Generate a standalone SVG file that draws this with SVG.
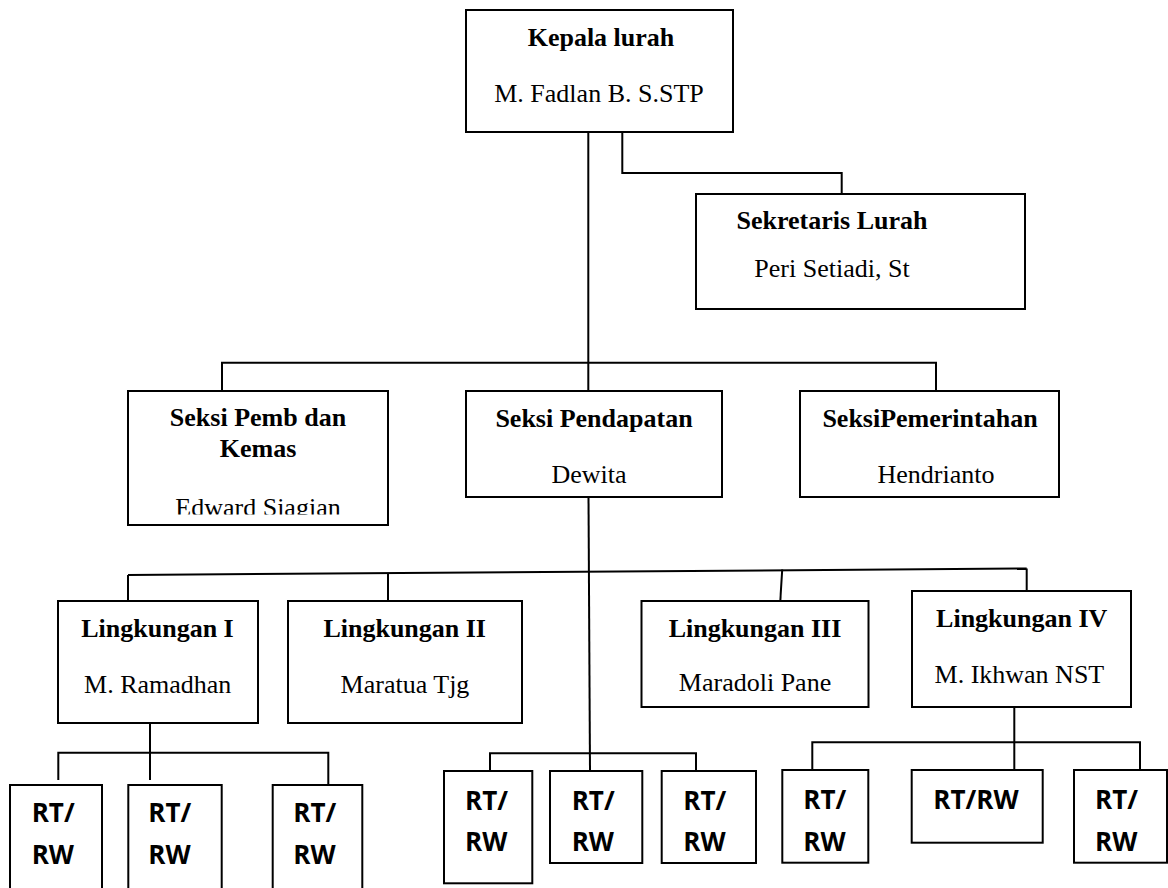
<svg xmlns="http://www.w3.org/2000/svg" width="1168" height="888" viewBox="0 0 1168 888">
<style>
.box{fill:#fff;stroke:#000;stroke-width:2}
.c{fill:none;stroke:#000;stroke-width:2}
.b{font-family:"Liberation Serif","Times New Roman",serif;font-size:26px;font-weight:bold;text-anchor:middle;fill:#000}
.r{font-family:"Liberation Serif","Times New Roman",serif;font-size:26px;text-anchor:middle;fill:#000}
.rt{font-family:"Open Sans","Liberation Sans",sans-serif;font-size:26px;font-weight:bold;fill:#000}
</style>
<defs>
<clipPath id="clipPemb"><rect x="128" y="391" width="260" height="123.5"/></clipPath>
</defs>
<rect width="1168" height="888" fill="#fff"/>
<g id="connectors">
<path class="c" d="M588.3,132 V391"/>
<path class="c" d="M588.5,497 L590,771"/>
<path class="c" d="M622.3,132 V173 H841.7 V194"/>
<path class="c" d="M222,391 V362.7 H936 V391"/>
<path class="c" d="M128,575 L1026.7,568.5"/>
<path class="c" d="M128,575 V601"/>
<path class="c" d="M388,573 V601"/>
<path class="c" d="M782.2,569.5 L780.3,601"/>
<path class="c" d="M1026.7,568.5 V591"/>
<path class="c" d="M150,723 V780"/>
<path class="c" d="M58.3,780 V752.7 H328.3 V785"/>
<path class="c" d="M490,771 V753.3 H696 V771"/>
<path class="c" d="M1014.3,707 V770"/>
<path class="c" d="M812.3,770 V742.3 H1140 V770"/>
</g>
<g id="kepala">
<rect class="box" x="466" y="10" width="267" height="122"/>
<text class="b" x="601" y="45.7">Kepala lurah</text>
<text class="r" x="599" y="101.7">M. Fadlan B. S.STP</text>
</g>
<g id="sekretaris">
<rect class="box" x="696" y="194" width="329" height="115"/>
<text class="b" x="832" y="229.3">Sekretaris Lurah</text>
<text class="r" x="832" y="276.7">Peri Setiadi, St</text>
</g>
<g id="seksi-pemb">
<rect class="box" x="128" y="391" width="260" height="134"/>
<text class="b" x="258" y="425.7">Seksi Pemb dan</text>
<text class="b" x="258" y="457.3">Kemas</text>
<text class="r" x="258" y="515.5" clip-path="url(#clipPemb)">Edward Siagian</text>
</g>
<g id="seksi-pendapatan">
<rect class="box" x="466" y="391" width="256" height="106"/>
<text class="b" x="594" y="427.3">Seksi Pendapatan</text>
<text class="r" x="589" y="482.7">Dewita</text>
</g>
<g id="seksi-pemerintahan">
<rect class="box" x="800" y="391" width="259" height="106"/>
<text class="b" x="930" y="427">SeksiPemerintahan</text>
<text class="r" x="936" y="482.7">Hendrianto</text>
</g>
<g id="lingkungan-1">
<rect class="box" x="58" y="601" width="200" height="122"/>
<text class="b" x="157.5" y="636.7">Lingkungan I</text>
<text class="r" x="157.7" y="692.7">M. Ramadhan</text>
</g>
<g id="lingkungan-2">
<rect class="box" x="288" y="601" width="234" height="122"/>
<text class="b" x="404.7" y="636.7">Lingkungan II</text>
<text class="r" x="405" y="692.7">Maratua Tjg</text>
</g>
<g id="lingkungan-3">
<rect class="box" x="641.5" y="601" width="227" height="106"/>
<text class="b" x="755" y="637.3">Lingkungan III</text>
<text class="r" x="755" y="690.7">Maradoli Pane</text>
</g>
<g id="lingkungan-4">
<rect class="box" x="912" y="591" width="219" height="116"/>
<text class="b" x="1021.7" y="626.7">Lingkungan IV</text>
<text class="r" x="1019.4" y="682.7">M. Ikhwan NST</text>
</g>
<g id="rt1">
<rect class="box" x="10" y="785" width="92" height="110"/>
<text class="rt" x="31.7" y="821.7">RT/</text>
<text class="rt" x="31.7" y="864.3">RW</text>
</g>
<g id="rt2">
<rect class="box" x="128.3" y="785" width="93.4" height="110"/>
<text class="rt" x="148.3" y="821.7">RT/</text>
<text class="rt" x="148.3" y="864.3">RW</text>
</g>
<g id="rt3">
<rect class="box" x="272.7" y="785" width="89.6" height="110"/>
<text class="rt" x="293.3" y="821.7">RT/</text>
<text class="rt" x="293.3" y="864.3">RW</text>
</g>
<g id="rt4">
<rect class="box" x="444" y="771" width="88.3" height="112.3"/>
<text class="rt" x="465" y="810">RT/</text>
<text class="rt" x="465" y="850.7">RW</text>
</g>
<g id="rt5">
<rect class="box" x="550" y="771" width="92.3" height="92"/>
<text class="rt" x="571.7" y="810">RT/</text>
<text class="rt" x="571.7" y="850.7">RW</text>
</g>
<g id="rt6">
<rect class="box" x="661.7" y="771" width="94.3" height="92"/>
<text class="rt" x="683.3" y="810">RT/</text>
<text class="rt" x="683.3" y="850.7">RW</text>
</g>
<g id="rt7">
<rect class="box" x="782.3" y="770" width="86" height="92.7"/>
<text class="rt" x="803.3" y="809.3">RT/</text>
<text class="rt" x="803.3" y="850.7">RW</text>
</g>
<g id="rt8">
<rect class="box" x="911.7" y="770" width="131" height="72.7"/>
<text class="rt" x="933.3" y="809.3">RT/RW</text>
</g>
<g id="rt9">
<rect class="box" x="1074" y="770" width="93" height="92.7"/>
<text class="rt" x="1095" y="809.3">RT/</text>
<text class="rt" x="1095" y="850.7">RW</text>
</g>
</svg>
